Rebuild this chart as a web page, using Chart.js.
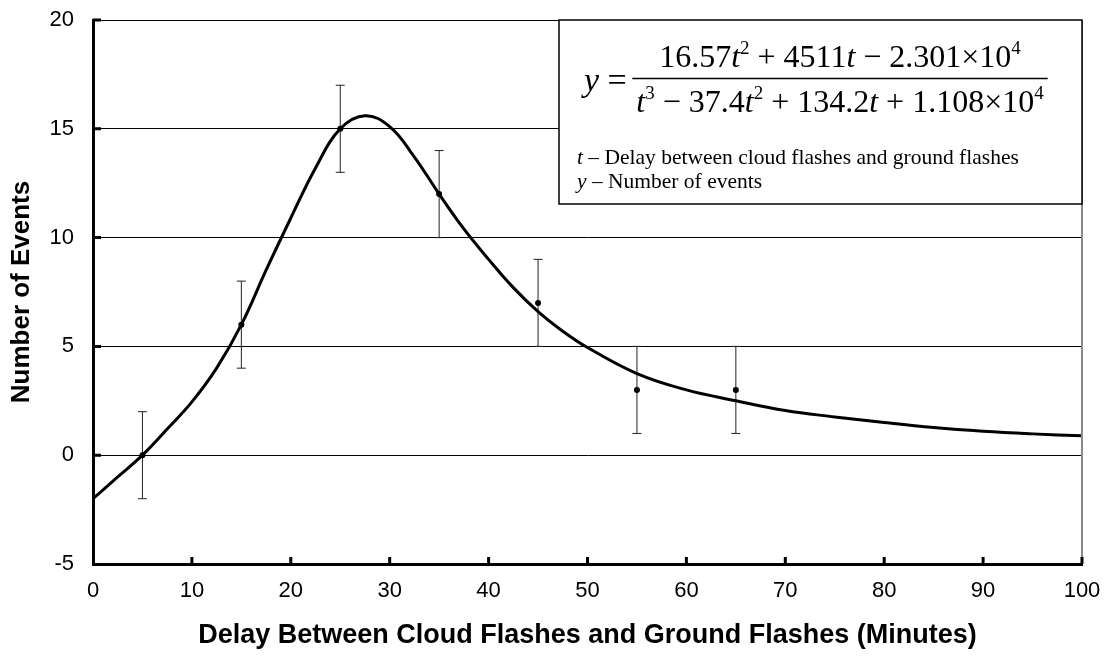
<!DOCTYPE html>
<html lang="en">
<head>
<meta charset="UTF-8">
<title>Number of Events vs Delay</title>
<script src="https://cdn.jsdelivr.net/npm/chart.js"></script>
<style>
  html, body { margin: 0; padding: 0; background: #fff; }
  #wrap { width: 1112px; height: 658px; position: relative; }
</style>
</head>
<body>
<div id="wrap"><canvas id="chart"></canvas></div>
<script>
// measured events with error bars
const delays = [5, 15, 25, 35, 45, 55, 65];
const events = [0, 6, 15, 12, 7, 3, 3];
const errLow = [-2, 4, 13, 10, 5, 1, 1];
const errHigh = [2, 8, 17, 14, 9, 5, 5];

// fitted curve
const fitT = [0, 2.5, 5, 7.5, 10, 12.5, 15, 17.5, 20, 22.5, 25, 27.5, 30, 32.5, 35, 37.5, 40, 42.5, 45, 47.5, 50, 55, 60, 65, 70, 75, 80, 85, 90, 95, 100];
const fitY = [-2.0, -1.0, 0, 1.2, 2.45, 4.0, 6.0, 8.5, 10.9, 13.2, 15.0, 15.6, 15.1, 13.7, 12.0, 10.4, 9.0, 7.7, 6.6, 5.7, 4.95, 3.75, 3.0, 2.5, 2.05, 1.76, 1.5, 1.27, 1.1, 0.98, 0.89];

const xTicks = [0, 10, 20, 30, 40, 50, 60, 70, 80, 90, 100];
const yTicks = [-5, 0, 5, 10, 15, 20];

const sans = "'Liberation Sans', Arial, sans-serif";
const serif = "'Liberation Serif', 'Times New Roman', serif";

// a row of text pieces (italic / superscript), measured then drawn
function textRow(ctx, runs, base, size, supSize) {
  let total = 0;
  runs.forEach(r => {
    ctx.font = (r.i ? 'italic ' : '') + (r.sup ? supSize : size) + 'px ' + serif;
    r.w = ctx.measureText(r.s).width;
    total += r.w;
  });
  return { total, draw(startX) {
    let px = startX;
    runs.forEach(r => {
      ctx.font = (r.i ? 'italic ' : '') + (r.sup ? supSize : size) + 'px ' + serif;
      ctx.fillText(r.s, px, r.sup ? base - size * 0.42 : base);
      px += r.w;
    });
  }};
}

const decor = {
  id: 'decor',
  afterDraw(chart) {
    const { ctx, chartArea: a, scales: { x, y } } = chart;
    ctx.save();
    // thin grey right edge
    ctx.strokeStyle = '#8a8a8a';
    ctx.lineWidth = 2;
    ctx.beginPath();
    ctx.moveTo(a.right, a.top);
    ctx.lineTo(a.right, a.bottom);
    ctx.stroke();

    // inward tick marks
    ctx.strokeStyle = '#000';
    ctx.lineWidth = 3;
    ctx.beginPath();
    yTicks.forEach(v => {
      if (v === yTicks[0]) return;
      const py = y.getPixelForValue(v);
      ctx.moveTo(a.left, py);
      ctx.lineTo(a.left + 8, py);
    });
    xTicks.forEach(v => {
      if (v === xTicks[0]) return;
      const px = x.getPixelForValue(v);
      ctx.moveTo(px, a.bottom);
      ctx.lineTo(px, a.bottom - 7);
    });
    ctx.stroke();

    // equation box
    const bx = a.left + 466, by = a.top, bw = a.right - bx, bh = 184;
    ctx.fillStyle = '#fff';
    ctx.fillRect(bx, by, bw, bh);
    ctx.strokeStyle = '#000';
    ctx.lineWidth = 1.5;
    ctx.strokeRect(bx, by, bw, bh);

    ctx.fillStyle = '#000';
    ctx.textAlign = 'left';
    ctx.textBaseline = 'alphabetic';
    const cx = bx + 281;
    const num = textRow(ctx, [
      { s: '16.57' }, { s: 't', i: true }, { s: '2', sup: true },
      { s: ' + 4511' }, { s: 't', i: true }, { s: ' \u2212 2.301\u00d710' }, { s: '4', sup: true }
    ], by + 47, 32, 19);
    num.draw(cx - num.total / 2);
    const den = textRow(ctx, [
      { s: 't', i: true }, { s: '3', sup: true }, { s: ' \u2212 37.4' }, { s: 't', i: true }, { s: '2', sup: true },
      { s: ' + 134.2' }, { s: 't', i: true }, { s: ' + 1.108\u00d710' }, { s: '4', sup: true }
    ], by + 92, 32, 19);
    den.draw(cx - den.total / 2);
    const barW = Math.max(num.total, den.total) + 8;
    ctx.lineWidth = 1.5;
    ctx.beginPath();
    ctx.moveTo(cx - barW / 2, by + 58.5);
    ctx.lineTo(cx + barW / 2, by + 58.5);
    ctx.stroke();

    textRow(ctx, [{ s: 'y', i: true }, { s: ' =' }], by + 71, 34, 19).draw(bx + 25);
    textRow(ctx, [{ s: 't', i: true }, { s: ' \u2013 Delay between cloud flashes and ground flashes' }], by + 144, 21.5, 12).draw(bx + 18);
    textRow(ctx, [{ s: 'y', i: true }, { s: ' \u2013 Number of events' }], by + 168, 21.5, 12).draw(bx + 18);
    ctx.restore();
  }
};

const barSets = delays.map((t, i) => ({
  label: 'err' + i,
  data: [{ x: t, y: errLow[i] }, { x: t, y: errHigh[i] }],
  showLine: true,
  borderColor: '#222',
  borderWidth: 1,
  pointRadius: 0
}));

const caps = [];
delays.forEach((t, i) => {
  caps.push({ x: t, y: errLow[i] });
  caps.push({ x: t, y: errHigh[i] });
});

new Chart(document.getElementById('chart'), {
  type: 'scatter',
  data: {
    datasets: [
      {
        label: 'Events',
        data: delays.map((t, i) => ({ x: t, y: events[i] })),
        pointRadius: 3,
        backgroundColor: '#000',
        borderColor: '#000',
        borderWidth: 0
      },
      {
        label: 'Fit',
        data: fitT.map((t, i) => ({ x: t, y: fitY[i] })),
        showLine: true,
        borderColor: '#000',
        borderWidth: 3,
        pointRadius: 0,
        tension: 0.4
      },
      {
        label: 'caps',
        data: caps,
        pointStyle: 'line',
        pointRadius: 4.5,
        borderColor: '#222',
        borderWidth: 1
      },
      ...barSets
    ]
  },
  options: {
    responsive: true,
    maintainAspectRatio: false,
    animation: false,
    layout: { padding: { top: 20, right: 30, left: 0, bottom: 0 } },
    plugins: { legend: { display: false }, tooltip: { enabled: false } },
    scales: {
      x: {
        type: 'linear',
        min: 0,
        max: 100,
        afterBuildTicks: s => { s.ticks = xTicks.map(v => ({ value: v })); },
        afterFit: s => { s.height = 94; s.paddingLeft = 0; s.paddingRight = 0; },
        grid: { display: false, drawTicks: false, tickLength: 0 },
        border: { display: true, color: '#000', width: 3 },
        ticks: { color: '#000', padding: 14, maxRotation: 0, font: { family: sans, size: 22 } },
        title: {
          display: true,
          text: 'Delay Between Cloud Flashes and Ground Flashes (Minutes)',
          color: '#000',
          font: { family: sans, size: 27, weight: 'bold' },
          padding: { top: 0, bottom: 6 }
        }
      },
      y: {
        min: -5,
        max: 20,
        afterBuildTicks: s => { s.ticks = yTicks.map(v => ({ value: v })); },
        afterFit: s => { s.width = 93; s.paddingTop = 0; s.paddingBottom = 0; },
        grid: { color: '#000', lineWidth: 1, drawTicks: false, tickLength: 0 },
        border: { display: true, color: '#000', width: 3 },
        ticks: { color: '#000', padding: 19, font: { family: sans, size: 22 } },
        title: {
          display: true,
          text: 'Number of Events',
          color: '#000',
          font: { family: sans, size: 26, weight: 'bold' },
          padding: { top: 6, bottom: 0 }
        }
      }
    }
  },
  plugins: [decor]
});
</script>
</body>
</html>
